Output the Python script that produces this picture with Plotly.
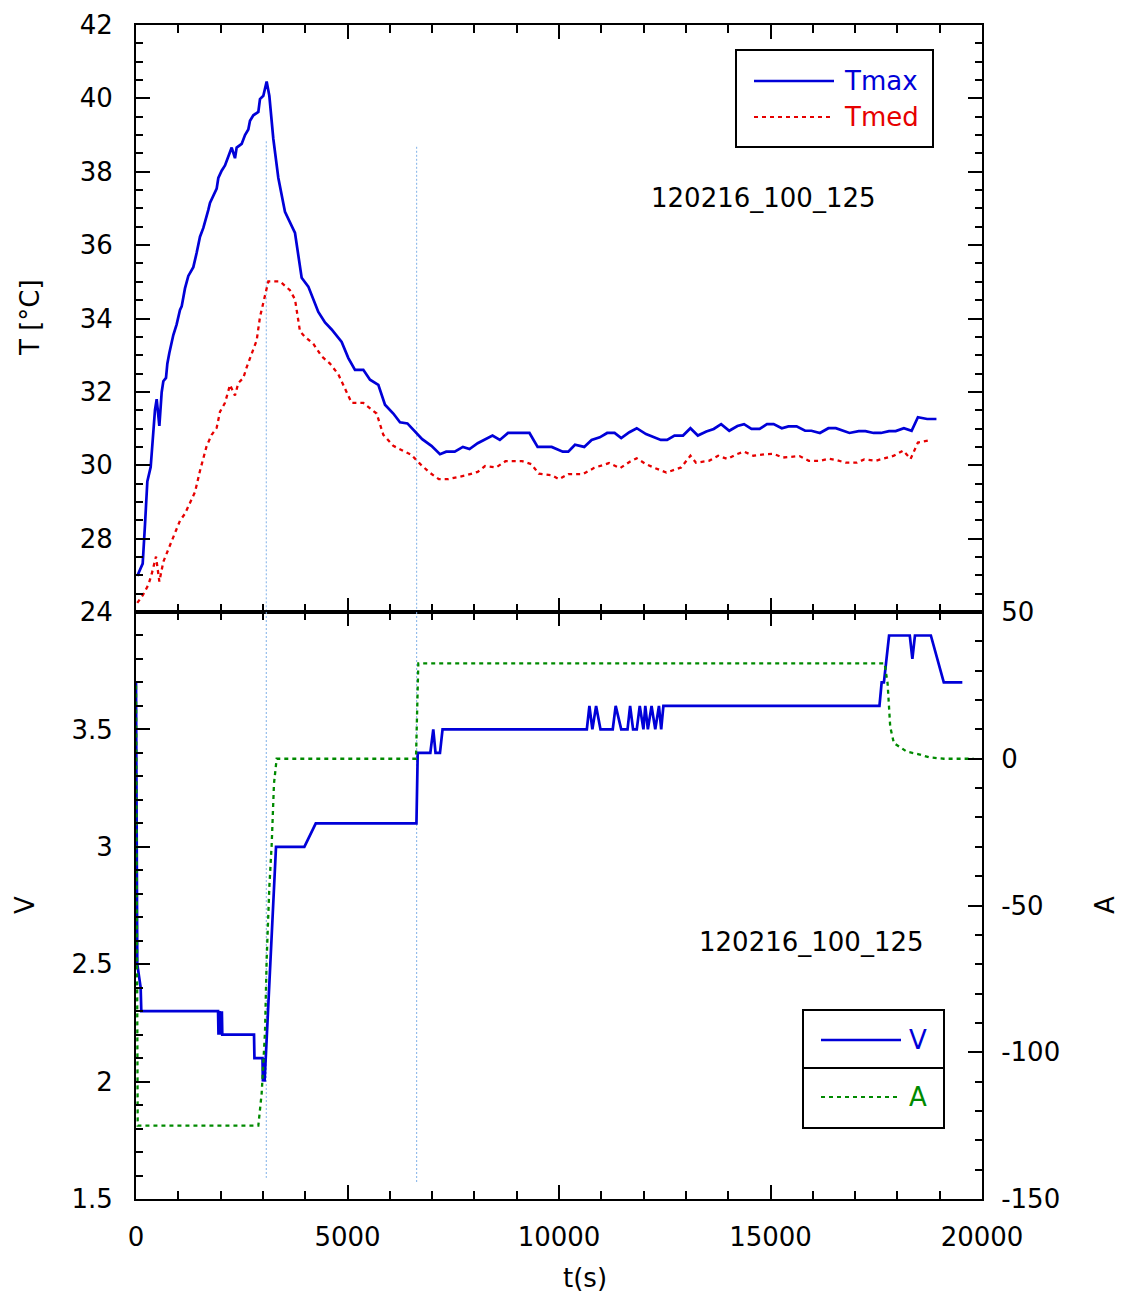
import plotly.graph_objects as go

# ---------------- data ----------------
tmax_t = [30, 158, 213, 268, 347, 394, 449, 489, 552, 607, 646, 709, 741, 788, 843, 882, 961, 1040, 1080, 1158,
          1237, 1316, 1355, 1434, 1513, 1592, 1671, 1710, 1749, 1828, 1907, 1946, 2025, 2104, 2183, 2262, 2340,
          2380, 2498, 2577, 2655, 2695, 2774, 2892, 2931, 3010, 3089, 3152, 3246, 3365, 3522, 3759, 3916, 4074,
          4310, 4468, 4625, 4862, 5020, 5177, 5374, 5532, 5729, 5886, 6083, 6241, 6416, 6766, 6984, 7186, 7334,
          7535, 7728, 7885, 8078, 8270, 8428, 8602, 8795, 9302, 9494, 9827, 10089, 10220, 10378, 10596, 10771,
          10964, 11139, 11314, 11471, 11664, 11838, 12057, 12232, 12407, 12556, 12730, 12932, 13107, 13282,
          13483, 13658, 13833, 14025, 14218, 14374, 14550, 14742, 14917, 15074, 15267, 15424, 15617, 15818,
          15967, 16168, 16369, 16544, 16867, 17086, 17244, 17436, 17611, 17803, 17960, 18153, 18336, 18485,
          18704, 18923]
tmax_v = [26.98, 27.32, 28.39, 29.56, 29.95, 30.73, 31.51, 31.80, 31.07, 31.99, 32.29, 32.38, 32.77, 33.06, 33.36,
          33.55, 33.84, 34.23, 34.33, 34.82, 35.16, 35.30, 35.40, 35.79, 36.23, 36.47, 36.76, 36.96, 37.15, 37.35,
          37.54, 37.83, 38.03, 38.17, 38.42, 38.66, 38.37, 38.66, 38.76, 39.00, 39.15, 39.39, 39.54, 39.63, 39.98,
          40.07, 40.46, 40.07, 38.90, 37.83, 36.91, 36.33, 35.11, 34.87, 34.18, 33.89, 33.70, 33.36, 32.92, 32.60,
          32.60, 32.33, 32.19, 31.65, 31.41, 31.17, 31.14, 30.71, 30.53, 30.30, 30.37, 30.37, 30.50, 30.44, 30.60,
          30.71, 30.81, 30.69, 30.88, 30.88, 30.50, 30.50, 30.37, 30.37, 30.56, 30.50, 30.69, 30.76, 30.88, 30.88,
          30.74, 30.90, 31.01, 30.85, 30.78, 30.69, 30.69, 30.81, 30.81, 31.01, 30.81, 30.92, 30.99, 31.12, 30.94,
          31.07, 31.12, 30.99, 30.99, 31.12, 31.12, 31.01, 31.06, 31.06, 30.94, 30.94, 30.88, 31.01, 31.01, 30.88,
          30.93, 30.93, 30.88, 30.88, 30.93, 30.93, 31.01, 30.94, 31.31, 31.26, 31.26]

tmed_t = [30, 158, 292, 370, 473, 552, 646, 764, 882, 1040, 1158, 1276, 1395, 1513, 1671, 1789, 1907, 1986, 2104,
          2222, 2340, 2419, 2537, 2616, 2734, 2852, 2931, 3050, 3128, 3404, 3640, 3759, 3877, 3995, 4192, 4389,
          4586, 4783, 4941, 5098, 5374, 5689, 5847, 6083, 6320, 6503, 6722, 6941, 7159, 7378, 7815, 8078, 8253,
          8515, 8734, 9127, 9346, 9521, 9827, 10002, 10220, 10570, 10833, 11183, 11445, 11664, 11838, 12057,
          12276, 12538, 12888, 13107, 13238, 13544, 13763, 13982, 14200, 14375, 14593, 14856, 15074, 15293,
          15687, 15905, 16168, 16386, 16561, 16780, 17043, 17216, 17480, 17698, 17917, 18135, 18311, 18485,
          18791]
tmed_v = [26.25, 26.45, 26.74, 27.03, 27.51, 26.83, 27.37, 27.71, 28.00, 28.49, 28.68, 28.97, 29.27, 29.85, 30.53,
          30.83, 31.02, 31.46, 31.70, 32.19, 31.90, 32.24, 32.38, 32.67, 33.06, 33.40, 34.04, 34.62, 35.01, 35.01,
          34.77, 34.52, 33.65, 33.50, 33.31, 32.97, 32.77, 32.48, 32.09, 31.70, 31.70, 31.41, 30.83, 30.53, 30.39,
          30.29, 30.03, 29.80, 29.62, 29.62, 29.73, 29.82, 29.98, 29.94, 30.11, 30.11, 30.03, 29.77, 29.73, 29.62,
          29.76, 29.76, 29.93, 30.06, 29.92, 30.09, 30.19, 30.03, 29.92, 29.80, 29.94, 30.26, 30.07, 30.12, 30.26,
          30.17, 30.30, 30.37, 30.26, 30.30, 30.31, 30.21, 30.25, 30.12, 30.12, 30.18, 30.14, 30.07, 30.07, 30.16,
          30.12, 30.18, 30.26, 30.40, 30.17, 30.62, 30.69]

volt_t = [0, 30, 110, 125, 1940, 1950, 1975, 1990, 2030, 2040, 2790, 2800, 2990, 3000, 3020, 3040, 3310, 3980,
          4250, 6630, 6660, 6696, 6958, 7028, 7081, 7186, 7247, 10658, 10719, 10789, 10877, 10981, 11270, 11340,
          11471, 11620, 11681, 11751, 11838, 11909, 11996, 12040, 12101, 12188, 12276, 12363, 12416, 12468,
          17576, 17628, 17681, 17803, 18293, 18354, 18415, 18791, 19097, 19535]
volt_v = [3.7, 2.5, 2.4, 2.3, 2.3, 2.2, 2.3, 2.2, 2.3, 2.2, 2.2, 2.1, 2.1, 2.0, 2.1, 2.0, 3.0, 3.0,
          3.1, 3.1, 3.4, 3.4, 3.4, 3.5, 3.4, 3.4, 3.5, 3.5, 3.6, 3.5, 3.6, 3.5, 3.5, 3.6,
          3.5, 3.5, 3.6, 3.5, 3.5, 3.6, 3.5, 3.6, 3.5, 3.6, 3.5, 3.6, 3.5, 3.6,
          3.6, 3.7, 3.7, 3.9, 3.9, 3.8, 3.9, 3.9, 3.7, 3.7]

amp_t = [0, 40, 2892, 2971, 3050, 3089, 3152, 3207, 3262, 3325, 6619, 6674, 17698, 17768, 17830, 17917, 18048,
         18223, 18485, 18747, 19097, 19800]
amp_v = [25, -125, -125, -114, -93, -68.5, -43.7, -29.4, -8.5, 0, 0, 32.5, 32.5, 25.7, 10.9, 5.3, 4.1,
         2.4, 1.6, 0.5, 0, 0]

# marker lines (time instants) and their extents in each panel
mark_t = [3080, 6635]
mark_top_T = [38.83, 38.68]
mark_bot_V = [1.59, 1.565]

run_label = "120216_100_125"
t_tickvals = [0, 5000, 10000, 15000, 20000]
t_ticktext = ["0", "5000", "10000", "15000", "20000"]
T_tickvals = [26, 28, 30, 32, 34, 36, 38, 40, 42]
T_ticktext = ["24", "28", "30", "32", "34", "36", "38", "40", "42"]
V_tickvals = [1.5, 2, 2.5, 3, 3.5]
V_ticktext = ["1.5", "2", "2.5", "3", "3.5"]
A_tickvals = [-150, -100, -50, 0, 50]
A_ticktext = ["-150", "-100", "-50", "0", "50"]

assert len(tmax_t) == len(tmax_v)
assert len(tmed_t) == len(tmed_v)
assert len(volt_t) == len(volt_v)
assert len(amp_t) == len(amp_v)

BLUE = "#0000d8"
RED = "#e60000"
GREEN = "#008a00"
LBLUE = "#7fb0e8"
FONT = "DejaVu Sans"
FS = 26

fig = go.Figure()

# vertical marker lines
for i, tm in enumerate(mark_t):
    fig.add_trace(go.Scatter(x=[tm, tm], y=[mark_top_T[i], 26], mode="lines", xaxis="x", yaxis="y",
                             line=dict(color=LBLUE, width=1, dash="2px,2px"), showlegend=False, hoverinfo="skip"))
    fig.add_trace(go.Scatter(x=[tm, tm], y=[4, mark_bot_V[i]], mode="lines", xaxis="x2", yaxis="y2",
                             line=dict(color=LBLUE, width=1, dash="2px,2px"), showlegend=False, hoverinfo="skip"))

fig.add_trace(go.Scatter(x=tmed_t, y=tmed_v, mode="lines", name="Tmed", xaxis="x", yaxis="y",
                         line=dict(color=RED, width=2.3, dash="4px,4px"), showlegend=False))
fig.add_trace(go.Scatter(x=tmax_t, y=tmax_v, mode="lines", name="Tmax", xaxis="x", yaxis="y",
                         line=dict(color=BLUE, width=2.7), showlegend=False))
fig.add_trace(go.Scatter(x=amp_t, y=amp_v, mode="lines", name="A", xaxis="x2", yaxis="y3",
                         line=dict(color=GREEN, width=2.3, dash="4px,4px"), showlegend=False))
fig.add_trace(go.Scatter(x=volt_t, y=volt_v, mode="lines", name="V", xaxis="x2", yaxis="y2",
                         line=dict(color=BLUE, width=2.7), showlegend=False))

axis_common = dict(showline=True, linecolor="black", linewidth=2, ticks="inside", tickcolor="black",
                   tickwidth=2, showgrid=False, zeroline=False, automargin=False,
                   tickfont=dict(family=FONT, size=FS, color="black"))

# page body has an 8px margin, so the figure is shifted by 8px; compensate
fig.update_layout(
    width=1111, height=1288, autosize=False,
    margin=dict(l=128, r=137, t=17, b=97),
    paper_bgcolor="white", plot_bgcolor="white",
    showlegend=False,
    xaxis=dict(domain=[0, 1], anchor="y", range=[0, 20000], tickvals=t_tickvals, ticklen=14,
               showticklabels=False, mirror="ticks",
               minor=dict(tickmode="linear", tick0=0, dtick=1000, ticklen=8, ticks="inside",
                          tickcolor="black", tickwidth=2),
               **axis_common),
    yaxis=dict(domain=[0.5, 1], anchor="x", range=[26, 42], tickvals=T_tickvals, ticktext=T_ticktext,
               ticklen=14, mirror="ticks", ticklabelstandoff=16,
               minor=dict(tickmode="linear", tick0=26, dtick=0.5, ticklen=7, ticks="inside",
                          tickcolor="black", tickwidth=2),
               **axis_common),
    xaxis2=dict(domain=[0, 1], anchor="y2", range=[0, 20000], tickvals=t_tickvals, ticktext=t_ticktext,
                ticklen=14, mirror="ticks", ticklabelstandoff=14,
                minor=dict(tickmode="linear", tick0=0, dtick=1000, ticklen=8, ticks="inside",
                           tickcolor="black", tickwidth=2),
                **axis_common),
    yaxis2=dict(domain=[0, 0.5], anchor="x2", range=[1.5, 4], tickvals=V_tickvals, ticktext=V_ticktext,
                ticklen=14, ticklabelstandoff=16,
                minor=dict(tickmode="linear", tick0=1.5, dtick=0.1, ticklen=7, ticks="inside",
                           tickcolor="black", tickwidth=2),
                **axis_common),
    yaxis3=dict(anchor="x2", overlaying="y2", side="right", range=[-150, 50], tickvals=A_tickvals,
                ticktext=A_ticktext, ticklen=14, ticklabelstandoff=12,
                minor=dict(tickmode="linear", tick0=-150, dtick=10, ticklen=7, ticks="inside",
                           tickcolor="black", tickwidth=2),
                **axis_common),
)

# ---------- helpers for page-pixel -> paper placement of decorations ----------
PX0, PX1, PY0, PY1 = 136, 982, 25, 1199


def px(x):
    return (x - PX0) / (PX1 - PX0)


def py(y):
    return (PY1 - y) / (PY1 - PY0)


annots = []
shapes = []

# axis titles
annots.append(dict(text="T [°C]", x=px(30), y=py(318), textangle=-90))
annots.append(dict(text="V", x=px(25), y=py(905), textangle=-90))
annots.append(dict(text="A", x=px(1105), y=py(905), textangle=-90))
annots.append(dict(text="t(s)", x=px(585), y=py(1278)))
annots.append(dict(text=run_label, x=px(763), y=py(198)))
annots.append(dict(text=run_label, x=px(811), y=py(942)))

# legend 1 (Tmax / Tmed)
shapes.append(dict(type="rect", x0=px(736), x1=px(933), y0=py(50), y1=py(147),
                   line=dict(color="black", width=2), fillcolor="white", layer="above"))
shapes.append(dict(type="line", x0=px(754), x1=px(834), y0=py(81), y1=py(81),
                   line=dict(color=BLUE, width=2.5)))
shapes.append(dict(type="line", x0=px(754), x1=px(834), y0=py(117), y1=py(117),
                   line=dict(color=RED, width=2.2, dash="4px,4px")))
annots.append(dict(text="Tmax", x=px(842), y=py(81), xanchor="left", font_color=BLUE))
annots.append(dict(text="Tmed", x=px(842), y=py(117), xanchor="left", font_color=RED))

# legend 2 (V / A)
shapes.append(dict(type="rect", x0=px(803), x1=px(944), y0=py(1010), y1=py(1128),
                   line=dict(color="black", width=2), fillcolor="white", layer="above"))
shapes.append(dict(type="line", x0=px(803), x1=px(944), y0=py(1068), y1=py(1068),
                   line=dict(color="black", width=2)))
shapes.append(dict(type="line", x0=px(821), x1=px(901), y0=py(1040), y1=py(1040),
                   line=dict(color=BLUE, width=2.5)))
shapes.append(dict(type="line", x0=px(821), x1=px(901), y0=py(1097), y1=py(1097),
                   line=dict(color=GREEN, width=2.2, dash="4px,4px")))
annots.append(dict(text="V", x=px(907), y=py(1040), xanchor="left", font_color=BLUE))
annots.append(dict(text="A", x=px(907), y=py(1097), xanchor="left", font_color=GREEN))

final_annots = []
for a in annots:
    color = a.pop("font_color", "black")
    base = dict(xref="paper", yref="paper", showarrow=False, xanchor="center", yanchor="middle",
                font=dict(family=FONT, size=FS, color=color))
    base.update(a)
    final_annots.append(base)

for s in shapes:
    s.update(xref="paper", yref="paper")

fig.update_layout(annotations=final_annots, shapes=shapes)

fig.write_html("out.html")
